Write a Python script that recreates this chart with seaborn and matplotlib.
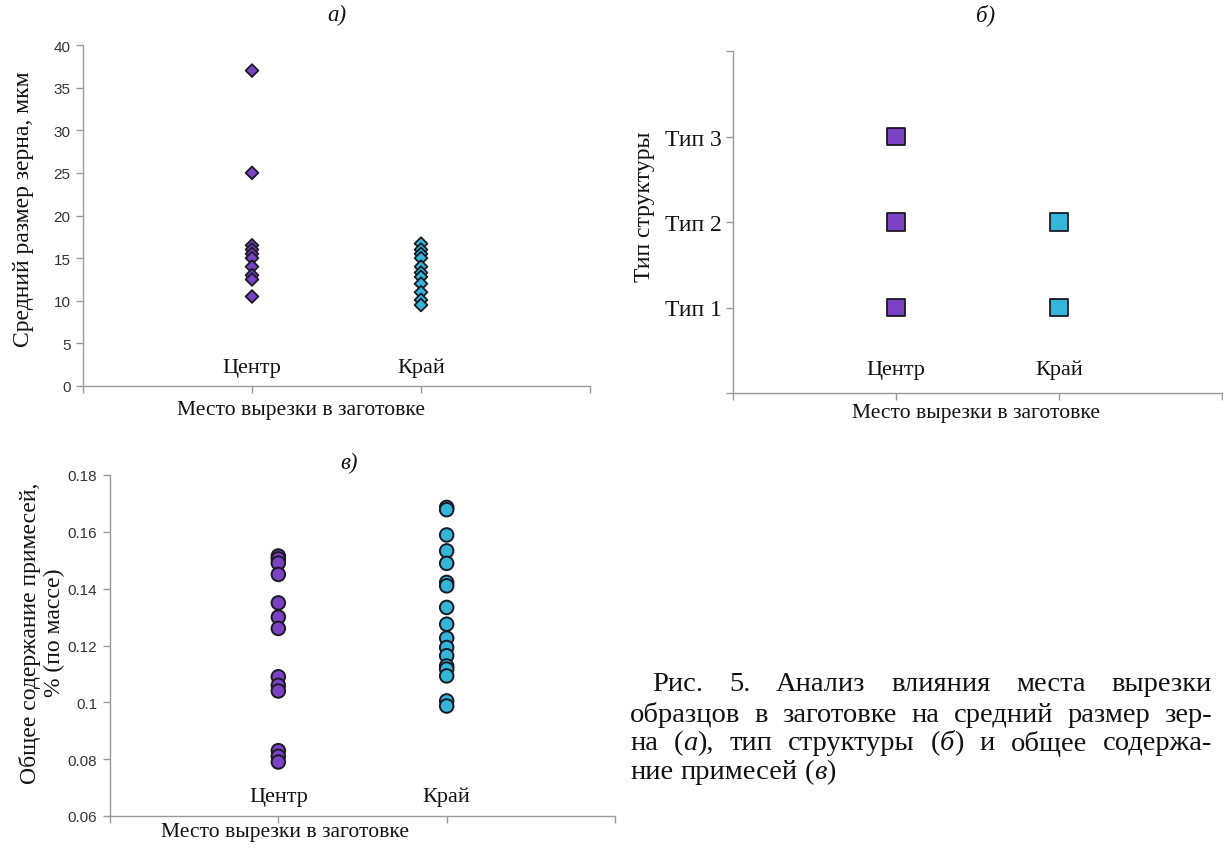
import numpy as np
import pandas as pd
import seaborn as sns
import matplotlib
matplotlib.use("Agg")
import matplotlib.pyplot as plt
from matplotlib.ticker import FixedLocator, FuncFormatter

# ---------------- data ----------------
categories = ["Центр", "Край"]

grain_center = [37.0, 25.0, 16.5, 16.0, 15.5, 15.0, 14.0, 13.0, 12.5, 10.5]
grain_edge = [16.7, 16.0, 15.5, 15.0, 14.0, 13.3, 12.8, 12.0, 11.0, 10.1, 9.5]

struct_center = [3, 2, 1]
struct_edge = [2, 1]
struct_labels = ["Тип 1", "Тип 2", "Тип 3"]

imp_center = [0.1515, 0.1505, 0.149, 0.145, 0.135, 0.130, 0.126,
              0.109, 0.106, 0.104, 0.083, 0.081, 0.079]
imp_edge = [0.1686, 0.1678, 0.1589, 0.1533, 0.1489, 0.1422, 0.1410,
            0.1334, 0.1275, 0.1226, 0.1193, 0.1164, 0.1128, 0.1117,
            0.1093, 0.1005, 0.0987]

grain_ticks = [0, 5, 10, 15, 20, 25, 30, 35, 40]
imp_ticks = [0.06, 0.08, 0.10, 0.12, 0.14, 0.16, 0.18]

panel_titles = ["а)", "б)", "в)"]
xlabel = "Место вырезки в заготовке"
ylabel_a = "Средний размер зерна, мкм"
ylabel_b = "Тип структуры"
ylabel_c = "Общее содержание примесей,\n% (по массе)"

caption_lines = [
    [[("Рис.", False)], [("5.", False)], [("Анализ", False)], [("влияния", False)],
     [("места", False)], [("вырезки", False)]],
    [[("образцов", False)], [("в", False)], [("заготовке", False)], [("на", False)],
     [("средний", False)], [("размер", False)], [("зер-", False)]],
    [[("на", False)], [("(", False), ("а", True), ("),", False)], [("тип", False)],
     [("структуры", False)], [("(", False), ("б", True), (")", False)], [("и", False)],
     [("общее", False)], [("содержа-", False)]],
    [[("ние", False)], [("примесей", False)], [("(", False), ("в", True), (")", False)]],
]

# ---------------- style ----------------
sns.set_theme(style="white")
plt.rcParams["font.family"] = ["Liberation Serif", "DejaVu Serif"]

PURPLE = "#7d41c6"
CYAN = "#33b6da"
EDGE = "#1a1a24"
SPINE = "#9a9a9a"
SERIF = ["Liberation Serif", "DejaVu Serif"]
SANS_N = ["Liberation Sans Narrow", "Liberation Sans", "DejaVu Sans"]
TXT = "#111111"

W, H = 1223, 854
fig = plt.figure(figsize=(W / 100, H / 100), dpi=100)
fig.patch.set_facecolor("white")


def px_axes(left, top, right, bottom):
    return fig.add_axes([left / W, 1 - bottom / H, (right - left) / W, (bottom - top) / H])


def make_df(center, edge):
    rows = []
    for cat, vals in zip(categories, [center, edge]):
        for v in vals:
            rows.append({"Место": cat, "pos": categories.index(cat) + 1, "val": v})
    return pd.DataFrame(rows)


def style_axes(ax):
    for s in ["top", "right"]:
        ax.spines[s].set_visible(False)
    for s in ["left", "bottom"]:
        ax.spines[s].set_color(SPINE)
        ax.spines[s].set_linewidth(1.0)
    ax.set_xlim(0, 3)
    ax.xaxis.set_major_locator(FixedLocator([0, 1, 2, 3]))
    ax.set_xticklabels([])
    ax.tick_params(axis="both", which="major", direction="out", length=5,
                   width=1.0, color=SPINE, bottom=True, left=True)
    ax.grid(False)
    ax.set_facecolor("white")


palette = {"Центр": PURPLE, "Край": CYAN}

# ---------------- panel a ----------------
ax_a = px_axes(83, 46, 590, 387)
df_a = make_df(grain_center, grain_edge)
sns.scatterplot(data=df_a, x="pos", y="val", hue="Место", palette=palette,
                marker="D", s=42, edgecolor=EDGE, linewidth=1.3, legend=False,
                ax=ax_a, zorder=3)
style_axes(ax_a)
ax_a.set_ylim(0, 40)
ax_a.yaxis.set_major_locator(FixedLocator(grain_ticks))
ax_a.yaxis.set_major_formatter(FuncFormatter(lambda v, p: f"{v:g}"))
for lab in ax_a.get_yticklabels():
    lab.set_family(SANS_N)
    lab.set_fontsize(11)
    lab.set_color("#333333")
ax_a.tick_params(axis="y", pad=4)
for i, c in enumerate(categories):
    ax_a.text(i + 1, 2.2, c, ha="center", va="center", fontsize=16, family=SERIF, color=TXT)
ax_a.set_xlabel(xlabel, fontsize=15.5, family=SERIF, color=TXT)
ax_a.xaxis.set_label_coords(0.43, -0.068)
ax_a.xaxis.label.set_va("center")
ax_a.set_ylabel(ylabel_a, fontsize=17, family=SERIF, color=TXT)
ax_a.yaxis.set_label_coords(-0.118, 0.52)
ax_a.yaxis.label.set_va("center")
fig.text(337 / W, 1 - 15 / H, panel_titles[0], ha="center", va="center",
         fontsize=16.5, style="italic", family=SERIF, color=TXT)

# ---------------- panel b ----------------
ax_b = px_axes(733, 52, 1222, 394)
df_b = make_df(struct_center, struct_edge)
sns.scatterplot(data=df_b, x="pos", y="val", hue="Место", palette=palette,
                marker="s", s=155, edgecolor=EDGE, linewidth=1.3, legend=False,
                ax=ax_b, zorder=3)
style_axes(ax_b)
ax_b.set_ylim(0, 4)
ax_b.yaxis.set_major_locator(FixedLocator([0, 1, 2, 3, 4]))
ax_b.set_yticklabels([""] + struct_labels + [""])
for lab in ax_b.get_yticklabels():
    lab.set_family(SERIF)
    lab.set_fontsize(17)
    lab.set_color(TXT)
ax_b.tick_params(axis="y", pad=3)
for i, c in enumerate(categories):
    ax_b.text(i + 1, 0.28, c, ha="center", va="center", fontsize=16, family=SERIF, color=TXT)
ax_b.set_xlabel(xlabel, fontsize=15.5, family=SERIF, color=TXT)
ax_b.xaxis.set_label_coords(0.496, -0.058)
ax_b.xaxis.label.set_va("center")
ax_b.set_ylabel(ylabel_b, fontsize=17, family=SERIF, color=TXT)
ax_b.yaxis.set_label_coords(-0.182, 0.547)
ax_b.yaxis.label.set_va("center")
fig.text(986 / W, 1 - 15 / H, panel_titles[1], ha="center", va="center",
         fontsize=16.5, style="italic", family=SERIF, color=TXT)

# ---------------- panel c ----------------
ax_c = px_axes(110, 476, 615, 817)
df_c = make_df(imp_center, imp_edge)
sns.scatterplot(data=df_c, x="pos", y="val", hue="Место", palette=palette,
                marker="o", s=95, edgecolor=EDGE, linewidth=1.4, legend=False,
                ax=ax_c, zorder=3)
style_axes(ax_c)
ax_c.set_ylim(0.06, 0.18)
ax_c.yaxis.set_major_locator(FixedLocator(imp_ticks))
ax_c.yaxis.set_major_formatter(FuncFormatter(lambda v, p: f"{round(v, 2):g}"))
for lab in ax_c.get_yticklabels():
    lab.set_family(SANS_N)
    lab.set_fontsize(11)
    lab.set_color("#333333")
ax_c.tick_params(axis="y", pad=4)
for i, c in enumerate(categories):
    ax_c.text(i + 1, 0.067, c, ha="center", va="center", fontsize=16, family=SERIF, color=TXT)
ax_c.set_xlabel(xlabel, fontsize=15.5, family=SERIF, color=TXT)
ax_c.xaxis.set_label_coords(0.347, -0.045)
ax_c.xaxis.label.set_va("center")
ax_c.set_ylabel(ylabel_c, fontsize=17, family=SERIF, color=TXT, linespacing=1.15)
ax_c.yaxis.set_label_coords(-0.135, 0.54)
ax_c.yaxis.label.set_va("center")
fig.text(349 / W, 1 - 463 / H, panel_titles[2], ha="center", va="center",
         fontsize=16.5, style="italic", family=SERIF, color=TXT)

# ---------------- caption (justified) ----------------
renderer = fig.canvas.get_renderer()
CAP_SIZE = 20.5
line_specs = [(652, 1212, 682, True), (630, 1212, 712, True),
              (630, 1212, 741, True), (630, 1212, 770, False)]


def seg_width(txt, italic):
    t = fig.text(0, 0, txt, fontsize=CAP_SIZE, family=SERIF,
                 style="italic" if italic else "normal")
    w = t.get_window_extent(renderer).width
    t.remove()
    return w


space_w = seg_width("a b", False) - seg_width("ab", False)
for words, (x0, x1, yc, justify) in zip(caption_lines, line_specs):
    wwidths = [[seg_width(s, it) for s, it in word] for word in words]
    totals = [sum(w) for w in wwidths]
    if justify and len(words) > 1:
        gap = (x1 - x0 - sum(totals)) / (len(words) - 1)
    else:
        gap = space_w
    x = x0
    for word, ws in zip(words, wwidths):
        xx = x
        for (s, it), w in zip(word, ws):
            fig.text(xx / W, 1 - yc / H, s, fontsize=CAP_SIZE, family=SERIF,
                     style="italic" if it else "normal", ha="left",
                     va="center_baseline", color=TXT)
            xx += w
        x += sum(ws) + gap

fig.savefig("out.png", dpi=100, facecolor="white")
